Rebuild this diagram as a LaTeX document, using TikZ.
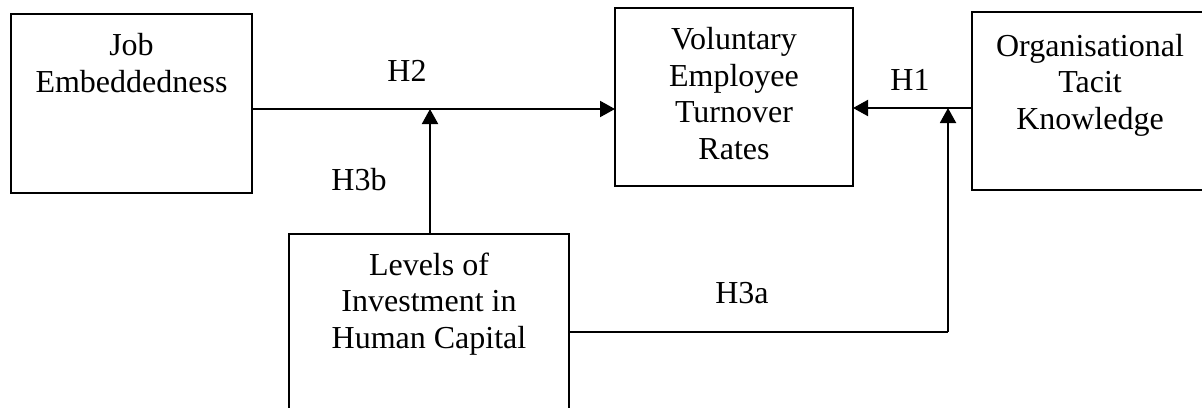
\documentclass[tikz,border=0pt]{standalone}
\usepackage{fontspec}
\setmainfont{Liberation Serif}
\usetikzlibrary{arrows.meta}
\begin{document}
\begin{tikzpicture}[x=0.5pt,y=-0.5pt,
  box/.style={draw, line width=1pt, inner sep=0pt, outer sep=0pt},
  txt/.style={inner sep=0pt, align=center, font=\fontsize{16}{18.25}\selectfont},
  lbl/.style={inner sep=0pt, font=\fontsize{16}{18.25}\selectfont},
  conn/.style={line width=1pt},
  arr/.style={line width=1pt, -{Triangle[length=7.5pt,width=8pt]}}]
\useasboundingbox (0,0) rectangle (1202,407);
\clip (0,0) rectangle (1202,407);
% boxes
\node[box, minimum width=120.5pt, minimum height=89.5pt] (je) at (131.5,103.5) {};
\node[box, minimum width=119pt, minimum height=89pt] (vetr) at (734,97) {};
\node[box, minimum width=120pt, minimum height=89pt] (otk) at (1092,101) {};
\node[box, minimum width=140pt, minimum height=89pt] (lihc) at (429,323) {};
% box texts (base anchor = last line baseline)
\node[txt, anchor=base] (jet) at (131.5,92) {Job\\Embeddedness};
\node[txt, anchor=base] (vetrt) at (734,159) {Voluntary\\Employee\\Turnover\\Rates};
\node[txt, anchor=base] (otkt) at (1090,129) {Organisational\\Tacit\\Knowledge};
\node[txt, anchor=base] (lihct) at (429,348) {Levels of\\Investment in\\Human Capital};
% junctions
\coordinate (j2) at (430,109);
\coordinate (j1) at (948,108);
\coordinate (c3a) at (948,332);
% connectors
\draw[arr] (je.east |- j2) -- (vetr.west |- j2);
\draw[arr] (otk.west |- j1) -- (vetr.east |- j1);
\draw[arr] (lihc.north -| j2) -- (j2);
\draw[conn] (lihc.east |- c3a) -- (c3a);
\draw[arr] (c3a) -- (j1);
% labels
\node[lbl, anchor=base] (h2) at (407,81) {H2};
\node[lbl, anchor=base] (h1) at (910,90) {H1};
\node[lbl, anchor=base] (h3b) at (359,190) {H3b};
\node[lbl, anchor=base] (h3a) at (742,303) {H3a};
\end{tikzpicture}
\end{document}
